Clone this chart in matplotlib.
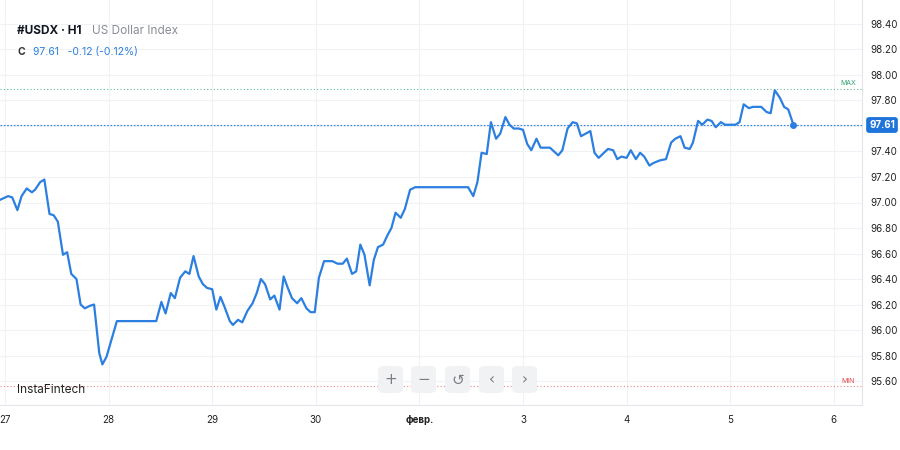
import numpy as np
import matplotlib.pyplot as plt
from matplotlib.patches import FancyBboxPatch

plt.rcParams['font.family'] = ['Inter', 'DejaVu Sans']

# x position in trading days from "27", hourly closes
days = [-0.05, 0.03, 0.07, 0.12, 0.16, 0.21, 0.26, 0.29, 0.34, 0.38,
        0.43, 0.47, 0.51, 0.56, 0.60, 0.64, 0.69, 0.73, 0.77, 0.82,
        0.86, 0.91, 0.94, 0.98, 1.08, 1.46, 1.51, 1.55, 1.60, 1.64,
        1.69, 1.74, 1.78, 1.82, 1.87, 1.91, 1.95, 2.00, 2.04, 2.08,
        2.12, 2.17, 2.20, 2.25, 2.29, 2.34, 2.39, 2.43, 2.47, 2.51,
        2.56, 2.60, 2.65, 2.69, 2.73, 2.77, 2.82, 2.86, 2.91, 2.95,
        2.99, 3.03, 3.08, 3.16, 3.21, 3.26, 3.30, 3.35, 3.39, 3.43,
        3.47, 3.52, 3.56, 3.60, 3.65, 3.69, 3.73, 3.77, 3.82, 3.86,
        3.91, 3.96, 4.47, 4.52, 4.56, 4.60, 4.65, 4.69, 4.74, 4.78,
        4.83, 4.87, 4.91, 4.96, 5.00, 5.04, 5.08, 5.13, 5.17, 5.22,
        5.26, 5.34, 5.38, 5.43, 5.48, 5.52, 5.56, 5.65, 5.69, 5.73,
        5.82, 5.87, 5.91, 5.95, 6.00, 6.04, 6.09, 6.13, 6.17, 6.22,
        6.26, 6.32, 6.38, 6.43, 6.47, 6.52, 6.56, 6.61, 6.64, 6.69,
        6.73, 6.78, 6.82, 6.86, 6.91, 6.95, 7.05, 7.09, 7.13, 7.18,
        7.22, 7.30, 7.35, 7.39, 7.43, 7.48, 7.52, 7.56, 7.61]
close = [97.02, 97.05, 97.04, 96.94, 97.05, 97.11, 97.08, 97.10, 97.16, 97.18,
         96.91, 96.90, 96.85, 96.59, 96.61, 96.44, 96.40, 96.20, 96.17, 96.19,
         96.20, 95.82, 95.73, 95.79, 96.07, 96.07, 96.22, 96.13, 96.29, 96.25,
         96.41, 96.46, 96.44, 96.58, 96.42, 96.36, 96.33, 96.32, 96.16, 96.26,
         96.18, 96.07, 96.04, 96.08, 96.06, 96.15, 96.21, 96.29, 96.40, 96.36,
         96.24, 96.27, 96.16, 96.42, 96.33, 96.25, 96.21, 96.25, 96.17, 96.14,
         96.14, 96.41, 96.54, 96.54, 96.52, 96.52, 96.56, 96.44, 96.46, 96.67,
         96.59, 96.35, 96.55, 96.65, 96.67, 96.74, 96.80, 96.92, 96.88, 96.95,
         97.10, 97.12, 97.12, 97.05, 97.16, 97.39, 97.38, 97.63, 97.50, 97.54,
         97.67, 97.61, 97.58, 97.58, 97.57, 97.46, 97.41, 97.50, 97.43, 97.43,
         97.43, 97.37, 97.41, 97.58, 97.63, 97.62, 97.52, 97.56, 97.39, 97.35,
         97.42, 97.41, 97.34, 97.36, 97.35, 97.41, 97.34, 97.39, 97.36, 97.29,
         97.31, 97.33, 97.34, 97.47, 97.50, 97.52, 97.43, 97.42, 97.47, 97.64,
         97.61, 97.65, 97.64, 97.59, 97.63, 97.61, 97.61, 97.63, 97.77, 97.74,
         97.75, 97.75, 97.71, 97.70, 97.88, 97.82, 97.75, 97.73, 97.61]

day_ticks = [0, 1, 2, 3, 4, 5, 6, 7, 8]
day_labels = ['27', '28', '29', '30', 'февр.', '3', '4', '5', '6']
price_ticks = [95.6, 95.8, 96.0, 96.2, 96.4, 96.6, 96.8, 97.0,
               97.2, 97.4, 97.6, 97.8, 98.0, 98.2, 98.4]
last_price = 97.61
max_level = 97.89
min_level = 95.56

blue = '#2b7fe0'
W, H = 900, 450

fig = plt.figure(figsize=(9, 4.5), dpi=100)
ax = fig.add_axes([0, 45 / H, 862 / W, 405 / H])

ax.plot(days, close, color=blue, lw=1.6, solid_joinstyle='round', zorder=3)
ax.plot(days[-1], close[-1], 'o', color=blue, ms=4, zorder=4)

ax.set_xlim(-0.048, 8.272)
ax.set_ylim(95.412, 98.588)

ax.set_xticks(day_ticks)
ax.set_xticklabels(day_labels)
ax.set_yticks(price_ticks)
ax.set_yticklabels(['%.2f' % p for p in price_ticks])
ax.yaxis.tick_right()
ax.tick_params(axis='both', length=0, labelsize=7, colors='#222222')
ax.tick_params(axis='y', pad=6)
ax.tick_params(axis='x', pad=7)
for lab in ax.get_xticklabels():
    if lab.get_text() == 'февр.':
        lab.set_fontweight('bold')
ax.grid(True, color='#f0f2f5', lw=0.8)
ax.set_axisbelow(True)

for s in ['top', 'left']:
    ax.spines[s].set_visible(False)
ax.spines['right'].set_color('#e3e5ea')
ax.spines['bottom'].set_color('#e3e5ea')

# level lines
ax.axhline(last_price, color=blue, lw=0.8, ls=(0, (1.5, 1.5)), zorder=2)
ax.axhline(max_level, color='#5cbf9a', lw=0.8, ls=(0, (1, 2)), zorder=2)
ax.axhline(min_level, color='#f08a8a', lw=0.8, ls=(0, (1, 2)), zorder=2)
ax.text(8.14, max_level + 0.02, 'MAX', color='#2ea572', fontsize=5, ha='center', va='bottom')
ax.text(8.14, min_level + 0.02, 'MIN', color='#e04848', fontsize=5, ha='center', va='bottom')

# hide the regular tick label under the price tag
for lab, p in zip(ax.get_yticklabels(), price_ticks):
    if abs(p - last_price) < 0.05:
        lab.set_visible(False)

# last price tag on the axis
fig.text(882 / W, 1 - 125 / H, '%.2f' % last_price, ha='center', va='center',
         fontsize=7, color='white', fontweight='bold',
         bbox=dict(boxstyle='round,pad=0.3,rounding_size=0.3', fc='#1e74da', ec='none'))

# header
fig.text(17 / W, 1 - 31 / H, '#USDX · H1', fontsize=8.5, fontweight='bold', color='#131722', va='center')
fig.text(92 / W, 1 - 31 / H, 'US Dollar Index', fontsize=8.5, color='#8a8d96', va='center')
fig.text(17 / W, 1 - 52 / H, 'C', fontsize=7.5, fontweight='bold', color='#333333', va='center')
fig.text(33 / W, 1 - 52 / H, '97.61   -0.12 (-0.12%)', fontsize=7.5, color='#2b7fe0', va='center')
fig.text(17 / W, 1 - 390 / H, 'InstaFintech', fontsize=8.5, color='#222222', va='center')

# navigation buttons
btn_x = [378, 411, 445, 479, 512]
btn_sym = ['+', '−', '↺', '‹', '›']
for bx, sym in zip(btn_x, btn_sym):
    fig.patches.append(FancyBboxPatch((bx / W, 1 - 393 / H), 25 / W, 27 / H,
                                      boxstyle='round,pad=0,rounding_size=0.008',
                                      transform=fig.transFigure, fc='#f1f2f4', ec='none',
                                      zorder=5))
    fig.text((bx + 12.5) / W, 1 - 380 / H, sym, fontsize=11, color='#7a7d83',
             ha='center', va='center', zorder=6, family=['DejaVu Sans'])

fig.savefig('out.png', dpi=100)
